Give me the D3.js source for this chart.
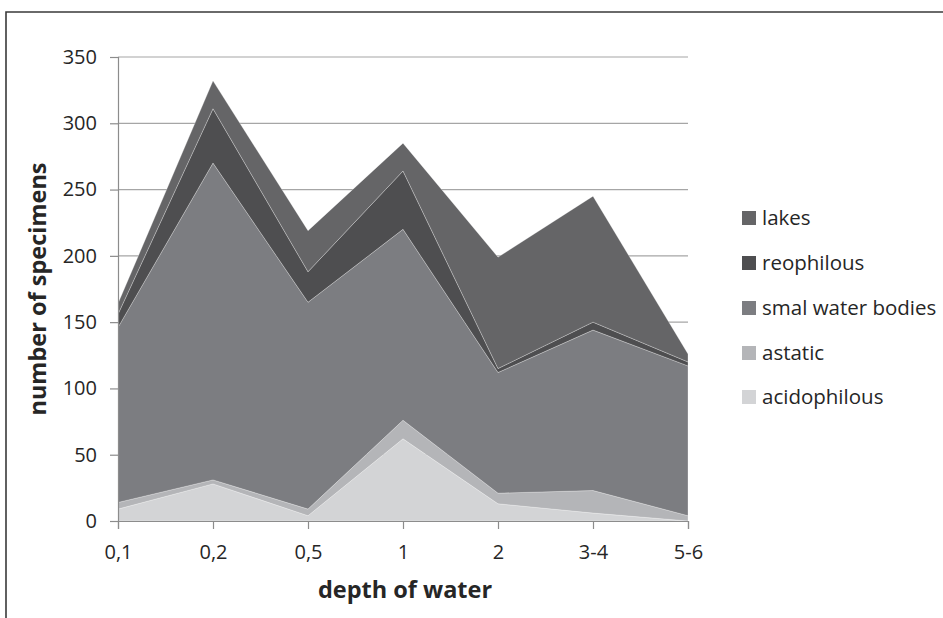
<!DOCTYPE html>
<html>
<head>
<meta charset="utf-8">
<script src="https://cdn.jsdelivr.net/npm/d3@7"></script>
<style>
  html, body { margin: 0; padding: 0; background: #fff; }
  svg { display: block; }
  text { font-family: "Open Sans", "Noto Sans", sans-serif; fill: #262626; }
</style>
</head>
<body>
<svg id="chart" width="943" height="618"></svg>
<script>
// Depth classes on the x axis
const depths = ["0,1", "0,2", "0,5", "1", "2", "3-4", "5-6"];

// Number of specimens per ecological group (stacked bottom to top)
const acidophilous     = [9, 28, 4, 62, 13, 6, 0];
const astatic          = [5, 3, 5, 14, 8, 17, 4];
const smalWaterBodies  = [132, 239, 156, 144, 91, 121, 113];
const reophilous       = [10, 41, 23, 44, 3, 6, 3];
const lakes            = [8, 21, 31, 21, 84, 95, 6];

const yTicks = [0, 50, 100, 150, 200, 250, 300, 350];

const seriesNames = ["acidophilous", "astatic", "smal water bodies", "reophilous", "lakes"];
const seriesValues = [acidophilous, astatic, smalWaterBodies, reophilous, lakes];
const seriesColors = ["#d3d4d6", "#b4b5b8", "#7c7d81", "#4e4e50", "#656567"];

const rows = depths.map((d, i) => {
  const r = { depth: d };
  seriesNames.forEach((n, k) => { r[n] = seriesValues[k][i]; });
  return r;
});

const svg = d3.select("#chart");

// outer frame (top and left edges)
svg.append("path")
  .attr("d", "M6,618 L6,12 L943,12")
  .attr("fill", "none")
  .attr("stroke", "#3a3a3a")
  .attr("stroke-width", 1.6);

const plotLeft = 118, plotRight = 688, plotTop = 57, plotBottom = 521;

const x = d3.scalePoint().domain(depths).range([plotLeft, plotRight]).padding(0);
const y = d3.scaleLinear().domain([0, 350]).range([plotBottom, plotTop]);

// horizontal gridlines
svg.append("g").selectAll("line")
  .data(yTicks.filter(t => t > 0))
  .join("line")
  .attr("x1", plotLeft).attr("x2", plotRight)
  .attr("y1", d => y(d)).attr("y2", d => y(d))
  .attr("stroke", "#a6a6a6").attr("stroke-width", 1.2);

const stack = d3.stack().keys(seriesNames);
const layers = stack(rows);

const area = d3.area()
  .x(d => x(d.data.depth))
  .y0(d => y(d[0]))
  .y1(d => y(d[1]));

svg.append("g").selectAll("path")
  .data(layers)
  .join("path")
  .attr("d", area)
  .attr("fill", (d, i) => seriesColors[i])
  .attr("stroke", "rgba(255,255,255,0.35)")
  .attr("stroke-width", 0.8);

// y axis
const yAxis = svg.append("g")
  .attr("transform", `translate(${plotLeft},0)`)
  .call(d3.axisLeft(y).tickValues(yTicks).tickSize(8).tickPadding(13));
yAxis.select(".domain").attr("stroke", "#8c8c8c").attr("stroke-width", 1.2);
yAxis.selectAll(".tick line").attr("stroke", "#8c8c8c").attr("stroke-width", 1.2);
yAxis.selectAll(".tick text")
  .attr("font-size", 20)
  .attr("font-family", "Open Sans, sans-serif")
  .attr("fill", "#2a2a2a");

// x axis
const xAxis = svg.append("g")
  .attr("transform", `translate(0,${plotBottom})`)
  .call(d3.axisBottom(x).tickSize(8).tickPadding(16));
xAxis.select(".domain").attr("stroke", "#8c8c8c").attr("stroke-width", 1.2);
xAxis.selectAll(".tick line").attr("stroke", "#8c8c8c").attr("stroke-width", 1.2);
xAxis.selectAll(".tick text")
  .attr("font-size", 20)
  .attr("font-family", "Open Sans, sans-serif")
  .attr("fill", "#2a2a2a");

// axis titles
svg.append("text")
  .attr("x", 405)
  .attr("y", 598)
  .attr("text-anchor", "middle")
  .attr("font-size", 23.5)
  .attr("font-weight", "bold")
  .text("depth of water");

svg.append("text")
  .attr("transform", `translate(46,${(plotTop + plotBottom) / 2}) rotate(-90)`)
  .attr("text-anchor", "middle")
  .attr("font-size", 23.5)
  .attr("font-weight", "bold")
  .text("number of specimens");

// legend, top entry is the top layer
const legendOrder = seriesNames.map((n, i) => ({ name: n, color: seriesColors[i] })).reverse();
const legendY = [218, 263, 308, 353, 397];
const legend = svg.append("g").selectAll("g")
  .data(legendOrder)
  .join("g")
  .attr("transform", (d, i) => `translate(742,${legendY[i]})`);
legend.append("rect")
  .attr("x", 0).attr("y", -7)
  .attr("width", 14).attr("height", 14)
  .attr("fill", d => d.color);
legend.append("text")
  .attr("x", 20).attr("y", 0)
  .attr("dy", "0.35em")
  .attr("font-size", 20.5)
  .text(d => d.name);
</script>
</body>
</html>
